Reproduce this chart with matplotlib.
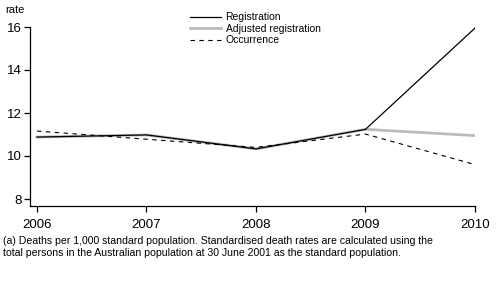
import matplotlib
matplotlib.use("Agg")
import matplotlib.pyplot as plt

years = [2006, 2007, 2008, 2009, 2010]
registration = [10.88, 10.98, 10.33, 11.24, 15.95]
adjusted = [10.88, 10.98, 10.33, 11.24, 10.95]
occurrence = [11.16, 10.78, 10.40, 11.02, 9.60]
yticks = [8, 10, 12, 14, 16]

plt.rcParams['font.family'] = ['Liberation Sans', 'DejaVu Sans']

fig = plt.figure(figsize=(4.96, 2.84), dpi=100)
ax = fig.add_axes([30/496, 1-206/284, (475-30)/496, (206-27)/284])

ax.plot(years, adjusted, color='#bbbbbb', lw=2.0, label='Adjusted registration', zorder=2)
ax.plot(years, occurrence, color='black', lw=0.8, ls=(0, (4, 4)), label='Occurrence', zorder=3)
ax.plot(years, registration, color='black', lw=0.9, label='Registration', zorder=4)

ax.set_xlim(2006 - 7/109.5, 2010)
ax.set_ylim(8 - 7/21.5, 16)
ax.set_yticks(yticks)
ax.set_xticks(years)
ax.set_xticklabels([str(y) for y in years])
for s in ['top', 'right']:
    ax.spines[s].set_visible(False)
for s in ['left', 'bottom']:
    ax.spines[s].set_linewidth(0.9)
ax.tick_params(axis='both', length=4, width=0.9, labelsize=9.5, pad=2)
ax.tick_params(axis='x', pad=5)

handles, labels = ax.get_legend_handles_labels()
order = [2, 0, 1]
ax.legend([handles[i] for i in order], [labels[i] for i in order],
          loc='upper left', bbox_to_anchor=(186/496, 1-8/284), bbox_transform=fig.transFigure,
          frameon=False, fontsize=7.5, handlelength=3.0, handletextpad=0.4,
          labelspacing=0.15, borderaxespad=0)

fig.text(5/496, 1-10/284, 'rate', fontsize=8, va='center', ha='left')
fig.text(3/496, 1-247/284,
         '(a) Deaths per 1,000 standard population. Standardised death rates are calculated using the\n'
         'total persons in the Australian population at 30 June 2001 as the standard population.',
         fontsize=7.55, va='center', ha='left', linespacing=1.25)

fig.savefig('out.png', dpi=100)
